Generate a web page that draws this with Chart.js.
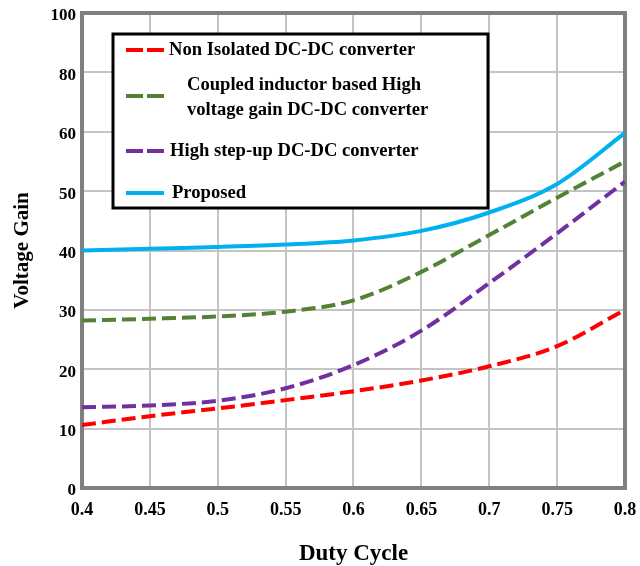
<!DOCTYPE html>
<html><head><meta charset="utf-8">
<script src="https://cdn.jsdelivr.net/npm/chart.js@4.4.1/dist/chart.umd.min.js"></script>
<style>html,body{margin:0;padding:0;background:#fff}canvas{display:block}</style>
</head><body>
<canvas id="c" width="640" height="566"></canvas>
<script>
// ---- data ----
const dutyCycle       = [0.4, 0.45, 0.5, 0.55, 0.6, 0.65, 0.7, 0.75, 0.8];
const nonIsolated     = [10.6, 12.1, 13.4, 14.8, 16.3, 18.1, 20.5, 23.9, 30.0];
const coupledInductor = [28.2, 28.5, 28.9, 29.7, 31.6, 36.4, 42.6, 48.9, 55.0];
const highStepUp      = [13.6, 13.9, 14.7, 16.8, 20.7, 26.5, 34.5, 42.9, 51.6];
const proposed        = [40.0, 40.3, 40.6, 41.0, 41.7, 43.3, 46.4, 51.2, 59.8];
const seriesNames = [
  ['Non Isolated DC-DC converter'],
  ['Coupled inductor based High', 'voltage gain DC-DC converter'],
  ['High step-up DC-DC converter'],
  ['Proposed']
];
const xTickValues = [0.4, 0.45, 0.5, 0.55, 0.6, 0.65, 0.7, 0.75, 0.8];
const xTickLabels = ['0.4', '0.45', '0.5', '0.55', '0.6', '0.65', '0.7', '0.75', '0.8'];
const yTickValues = [0, 10, 20, 30, 40, 50, 60, 80, 100];
const yTickLabels = ['0', '10', '20', '30', '40', '50', '60', '80', '100'];
const xTitle = 'Duty Cycle';
const yTitle = 'Voltage Gain';

const SERIF = '"Liberation Serif", "Times New Roman", serif';

// Axis whose tick values are equally spaced (as in the reference: 0..60 by 10, then 80, 100)
class TickSpacedScale extends Chart.LinearScale {
  toDecimal(v) {
    const t = yTickValues, n = t.length - 1;
    if (v <= t[0]) return 0;
    for (let i = 0; i < n; i++) {
      if (v <= t[i + 1]) return (i + (v - t[i]) / (t[i + 1] - t[i])) / n;
    }
    return 1;
  }
  getPixelForValue(v) {
    return v === null ? NaN : this.getPixelForDecimal(this.toDecimal(v));
  }
  getValueForPixel(p) {
    const d = this.getDecimalForPixel(p) * (yTickValues.length - 1);
    const i = Math.min(Math.floor(d), yTickValues.length - 2);
    return yTickValues[i] + (d - i) * (yTickValues[i + 1] - yTickValues[i]);
  }
}
TickSpacedScale.id = 'tickspaced';
TickSpacedScale.defaults = Chart.LinearScale.defaults;
Chart.register(TickSpacedScale);

const toXY = arr => dutyCycle.map((x, i) => ({x, y: arr[i]}));

const frameAndLegend = {
  id: 'frameAndLegend',
  beforeDatasetsDraw(chart) {
    const {ctx, chartArea: a} = chart;
    ctx.save();
    ctx.strokeStyle = '#7f7f7f';
    ctx.lineWidth = 4;
    ctx.strokeRect(a.left, a.top, a.right - a.left, a.bottom - a.top);
    ctx.restore();
  },
  afterDraw(chart) {
    const ctx = chart.ctx;
    const box = {x: 113, y: 34, w: 375, h: 174};
    ctx.save();
    ctx.fillStyle = '#fff';
    ctx.fillRect(box.x, box.y, box.w, box.h);
    ctx.strokeStyle = '#000';
    ctx.lineWidth = 3;
    ctx.strokeRect(box.x, box.y, box.w, box.h);
    const rows = [
      {ly: 50, tx: 169, ty: [50]},
      {ly: 96, tx: 187, ty: [85, 110]},
      {ly: 151, tx: 170, ty: [151]},
      {ly: 193, tx: 172, ty: [193]}
    ];
    ctx.font = 'bold 18.6px ' + SERIF;
    ctx.textBaseline = 'middle';
    ctx.textAlign = 'left';
    chart.data.datasets.forEach((ds, i) => {
      const r = rows[i];
      ctx.strokeStyle = ds.borderColor;
      ctx.lineWidth = 4;
      ctx.setLineDash(ds.borderDash && ds.borderDash.length ? [17, 4] : []);
      ctx.beginPath();
      ctx.moveTo(126, r.ly);
      ctx.lineTo(164, r.ly);
      ctx.stroke();
      ctx.setLineDash([]);
      ctx.fillStyle = '#000';
      seriesNames[i].forEach((line, k) => ctx.fillText(line, r.tx, r.ty[k]));
    });
    ctx.restore();
  }
};

const lineDs = (data, color, dash) => ({
  data: toXY(data),
  borderColor: color,
  backgroundColor: color,
  borderWidth: 4,
  borderDash: dash,
  borderCapStyle: 'butt',
  pointRadius: 0,
  cubicInterpolationMode: 'monotone',
  fill: false
});

new Chart(document.getElementById('c'), {
  type: 'line',
  data: {
    datasets: [
      Object.assign(lineDs(nonIsolated, '#ff0000', [14, 6]), {label: seriesNames[0].join(' ')}),
      Object.assign(lineDs(coupledInductor, '#548235', [14, 6]), {label: seriesNames[1].join(' ')}),
      Object.assign(lineDs(highStepUp, '#7030a0', [14, 6]), {label: seriesNames[2].join(' ')}),
      Object.assign(lineDs(proposed, '#00b0f0', []), {label: seriesNames[3].join(' ')})
    ]
  },
  options: {
    responsive: false,
    animation: false,
    layout: {padding: {top: 13, right: 15, left: 0, bottom: 0}},
    plugins: {legend: {display: false}, tooltip: {enabled: false}},
    scales: {
      x: {
        type: 'linear',
        min: 0.4, max: 0.8,
        afterBuildTicks: s => { s.ticks = xTickValues.map(v => ({value: v})); },
        afterFit: s => { s.height = 78; s.paddingLeft = 0; s.paddingRight = 0; },
        grid: {color: '#c4c4c4', lineWidth: 2, drawTicks: false},
        border: {display: false},
        ticks: {
          callback: (v, i) => xTickLabels[i],
          color: '#000',
          font: {family: SERIF, size: 18, weight: 'bold'},
          padding: 12,
          maxRotation: 0,
          autoSkip: false
        },
        title: {
          display: true, text: xTitle, color: '#000',
          font: {family: SERIF, size: 23, weight: 'bold'},
          padding: {top: 0, bottom: -2}
        }
      },
      y: {
        type: 'tickspaced',
        min: 0, max: 100,
        afterBuildTicks: s => { s.ticks = yTickValues.map(v => ({value: v})); },
        afterFit: s => { s.width = 82; s.paddingTop = 0; s.paddingBottom = 0; },
        grid: {color: '#c4c4c4', lineWidth: 2, drawTicks: false},
        border: {display: false},
        ticks: {
          callback: (v, i) => yTickLabels[i],
          color: '#000',
          font: {family: SERIF, size: 17, weight: 'bold'},
          padding: 6,
          labelOffset: 3,
          autoSkip: false
        },
        title: {
          display: true, text: yTitle, color: '#000',
          font: {family: SERIF, size: 21, weight: 'bold'},
          padding: {top: 10, bottom: 0}
        }
      }
    }
  },
  plugins: [frameAndLegend]
});
</script>
</body></html>
